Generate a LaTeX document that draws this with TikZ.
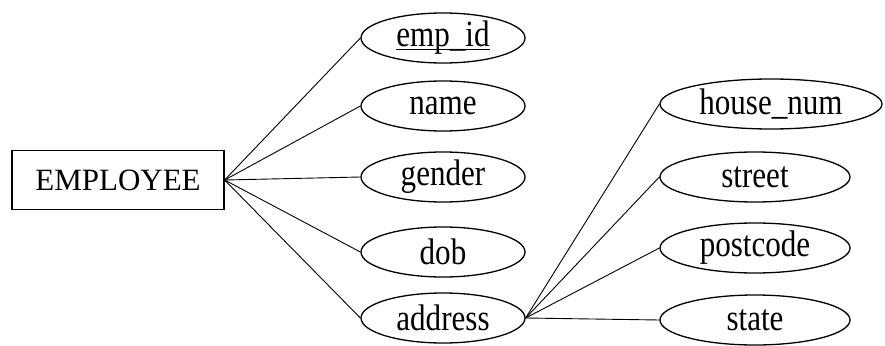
\documentclass[tikz,border=0pt]{standalone}
\usepackage{fontspec}
\setmainfont{Liberation Serif}
\newfontfamily\tallserif[FakeStretch=0.84]{Liberation Serif}
\usetikzlibrary{shapes.geometric}
\newsavebox\keybox
\newcommand{\keyattr}[1]{\sbox\keybox{#1}\rlap{\rule[-3pt]{\wd\keybox}{1.2pt}}\usebox\keybox}

\begin{document}
\begin{tikzpicture}[x=1pt, y=-1pt,
	entity/.style={draw, line width=1.3pt, minimum width=212pt, minimum height=59pt, inner sep=0pt, font=\fontsize{31}{36}\selectfont},
	attr/.style={draw, ellipse, line width=1.3pt, minimum width=164pt, minimum height=50pt, inner sep=0pt, font=\tallserif\fontsize{37}{40}\selectfont},
	link/.style={line width=0.9pt}]
				\useasboundingbox (0,0) rectangle (885,345);
				\node[entity] (employee) at (118,180) {EMPLOYEE};
				\node[attr] (empid) at (443,38) {\keyattr{emp\_id}};
				\draw[link] (employee.east) -- (empid.west);
				\foreach \n/\y in {name/106, gender/177, dob/252, address/318} {
					\node[attr] (\n) at (443,\y) {\n};
					\draw[link] (employee.east) -- (\n.west);
				}
				\node[attr, minimum width=222pt] (housenum) at (771,104) {house\_num};
				\foreach \n/\y in {street/177, postcode/248, state/320} {
					\node[attr, minimum width=190pt] (\n) at (755,\y) {\n};
				}
				\foreach \n in {housenum, street, postcode, state} {
					\draw[link] (address.east) -- (\n.west);
				}
			\end{tikzpicture}
\end{document}
